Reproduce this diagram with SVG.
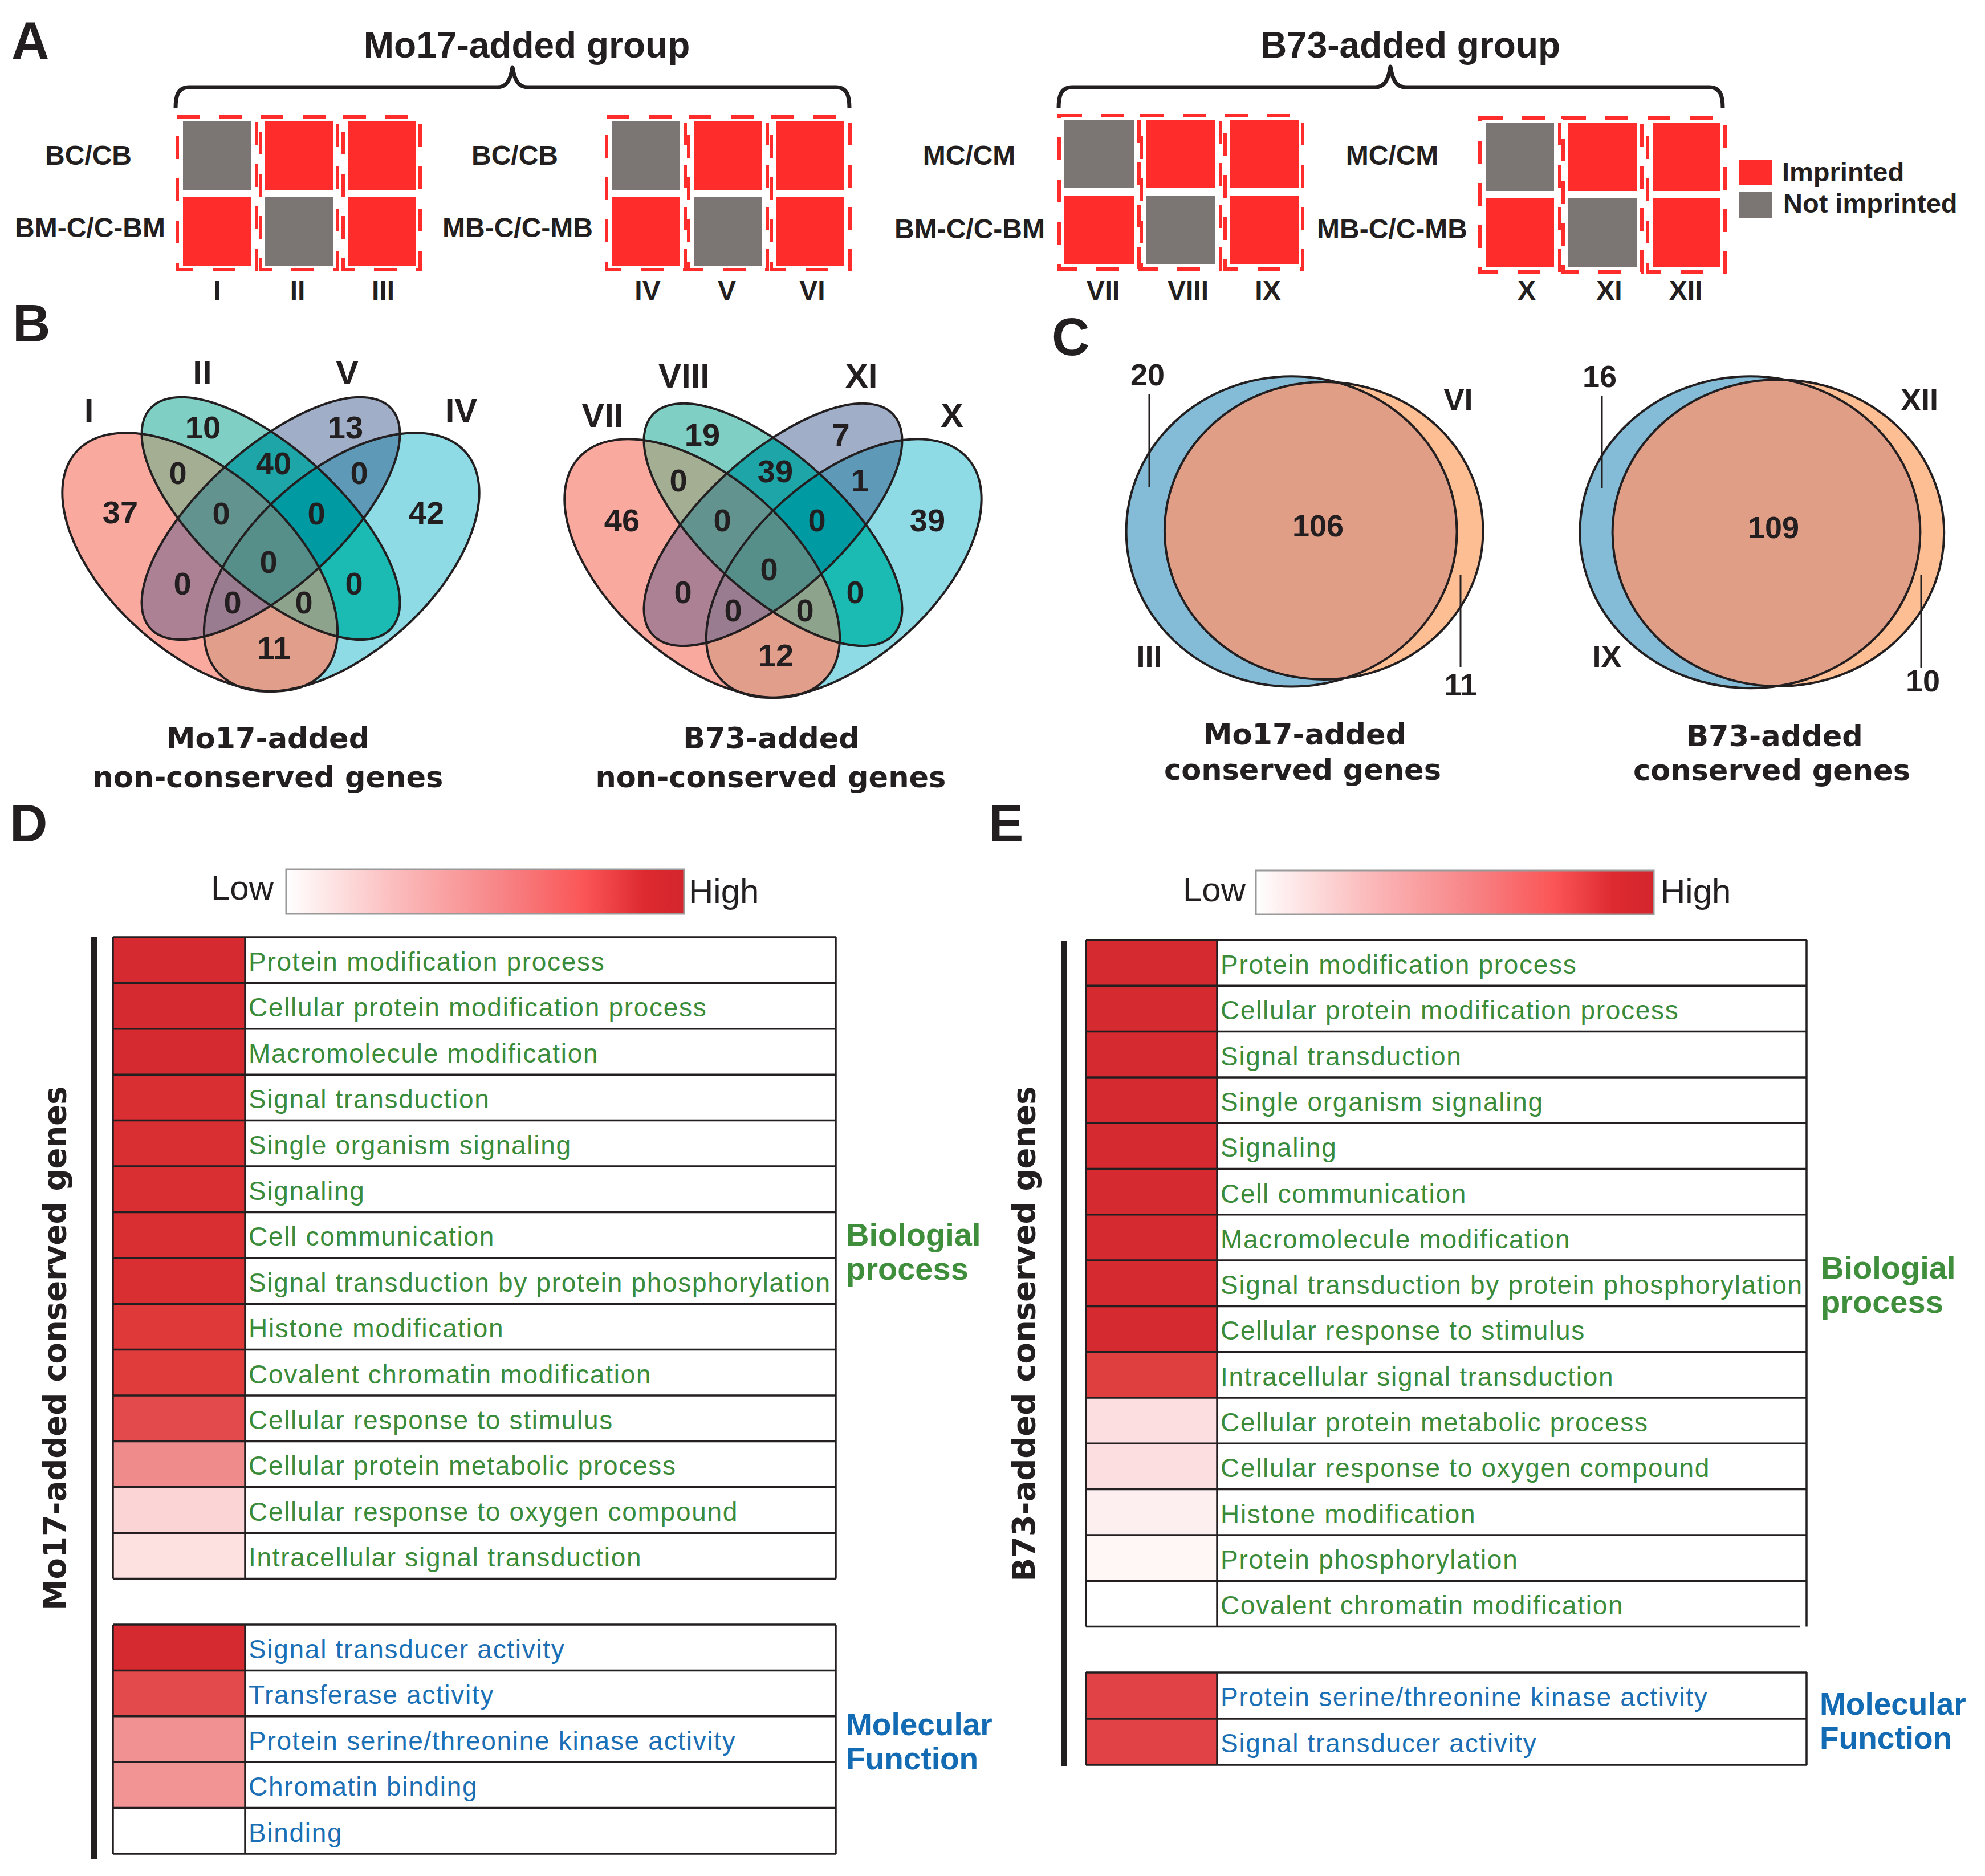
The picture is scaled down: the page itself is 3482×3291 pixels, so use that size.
<svg xmlns="http://www.w3.org/2000/svg" xmlns:xlink="http://www.w3.org/1999/xlink" width="3482" height="3291" viewBox="0 0 3482 3291">
<style>
.t{fill:#231F20;font-family:"Liberation Sans",Arial,sans-serif;font-weight:bold}
.dj{fill:#231F20;font-family:"DejaVu Sans",Verdana,sans-serif;font-weight:bold}
.big{font-size:92px}
.lab{font-size:48px}
.ttl{font-size:64px}
.leg{font-size:47px}
.num{font-size:56px;text-anchor:middle}
.rom{font-size:60px;text-anchor:middle}
.cn{font-size:54px;text-anchor:middle}
.sub{font-size:51px;text-anchor:middle}
.ylab{font-size:54.5px;text-anchor:middle}
.mid{text-anchor:middle}
.red{fill:#FF2C2C}
.gray{fill:#7B7674}
.dash{fill:none;stroke:#FF2C2C;stroke-width:6;stroke-dasharray:40 34}
.brace{fill:none;stroke:#231F20;stroke-width:7;stroke-linejoin:round}
.vo{fill:none;stroke:#231F20;stroke-width:4}
.ln{fill:none;stroke:#231F20;stroke-width:3.5}
.rowg{fill:#3A8B3A;font-family:"Liberation Sans",Arial,sans-serif;font-size:46px;letter-spacing:1.7px}
.rowb{fill:#1B6FB5;font-family:"Liberation Sans",Arial,sans-serif;font-size:46px;letter-spacing:1.7px}
.hg{fill:#3E8E3B;font-family:"Liberation Sans",Arial,sans-serif;font-weight:bold;font-size:56px}
.hb{fill:#136BB4;font-family:"Liberation Sans",Arial,sans-serif;font-weight:bold;font-size:55px}
.lh{fill:#231F20;font-family:"Liberation Sans",Arial,sans-serif;font-size:60px}
</style>
<defs>
<ellipse id="eA" cx="350.7" cy="986.1" rx="290.6" ry="159" transform="rotate(41.7 350.7 986.1)"/>
<ellipse id="eB" cx="475" cy="909.4" rx="286.1" ry="121" transform="rotate(42.4 475 909.4)"/>
<ellipse id="eC" cx="475" cy="909.4" rx="286.1" ry="121" transform="rotate(-42.4 475 909.4)"/>
<ellipse id="eD" cx="599.3" cy="986.1" rx="290.6" ry="159" transform="rotate(-41.7 599.3 986.1)"/>
<clipPath id="cA"><use href="#eA"/></clipPath>
<clipPath id="cB"><use href="#eB"/></clipPath>
<clipPath id="cC"><use href="#eC"/></clipPath>
<g id="vennFill">
<use href="#eA" fill="#FAA99F"/>
<use href="#eB" fill="#7FCFC4"/>
<use href="#eC" fill="#A0AEC8"/>
<use href="#eD" fill="#8EDBE6"/>
<use href="#eB" clip-path="url(#cA)" fill="#A3AE93"/>
<use href="#eC" clip-path="url(#cA)" fill="#AC8193"/>
<use href="#eD" clip-path="url(#cA)" fill="#E09E8B"/>
<use href="#eC" clip-path="url(#cB)" fill="#1EA5A8"/>
<use href="#eD" clip-path="url(#cB)" fill="#1BBBB4"/>
<use href="#eD" clip-path="url(#cC)" fill="#5E9AB8"/>
<g clip-path="url(#cA)"><use href="#eC" clip-path="url(#cB)" fill="#62938F"/></g>
<g clip-path="url(#cA)"><use href="#eD" clip-path="url(#cB)" fill="#8EA38C"/></g>
<g clip-path="url(#cA)"><use href="#eD" clip-path="url(#cC)" fill="#9A7C90"/></g>
<g clip-path="url(#cB)"><use href="#eD" clip-path="url(#cC)" fill="#009AA2"/></g>
<g clip-path="url(#cA)"><g clip-path="url(#cB)"><use href="#eD" clip-path="url(#cC)" fill="#568E89"/></g></g>
<use href="#eA" class="vo"/>
<use href="#eB" class="vo"/>
<use href="#eC" class="vo"/>
<use href="#eD" class="vo"/>
</g>
<ellipse id="c3" cx="2265.6" cy="932.4" rx="290" ry="272.2"/>
<ellipse id="c6" cx="2322.2" cy="931" rx="279.3" ry="261"/>
<ellipse id="c9" cx="3069.9" cy="933.7" rx="298.5" ry="273.5"/>
<ellipse id="c12" cx="3119.4" cy="935" rx="290.8" ry="269"/>
<clipPath id="cc3"><use href="#c3"/></clipPath>
<clipPath id="cc9"><use href="#c9"/></clipPath>
<linearGradient id="grad" x1="0" y1="0" x2="1" y2="0">
<stop offset="0" stop-color="#FFFFFF"/>
<stop offset="0.3" stop-color="#FBB6B7"/>
<stop offset="0.55" stop-color="#F78284"/>
<stop offset="0.75" stop-color="#FB5556"/>
<stop offset="0.9" stop-color="#DD2A30"/>
<stop offset="1" stop-color="#D4252D"/>
</linearGradient>
</defs>
<rect width="3482" height="3291" fill="#FFFFFF"/>

<g id="panelLetters">
<text class="t big" x="20" y="103">A</text>
<text class="t big" x="22" y="599">B</text>
<text class="t big" x="1845" y="623">C</text>
<text class="t big" x="17" y="1476">D</text>
<text class="t big" x="1734" y="1476">E</text>
</g>

<g id="titleMo17"><text class="t ttl mid" x="924" y="101">Mo17-added group</text></g>
<g id="titleB73"><text class="t ttl mid" x="2474" y="101">B73-added group</text></g>
<g id="braces">
<path class="brace" d="M308,190 C308,168 312,153 332,153 L872,153 C888,153 895,142 899,118 C903,142 910,153 926,153 L1466,153 C1486,153 1490,168 1490,190"/>
<path class="brace" d="M1857,190 C1857,168 1861,153 1881,153 L2412,153 C2428,153 2435,142 2439,117 C2443,142 2450,153 2466,153 L2998,153 C3018,153 3022,168 3022,190"/>
</g>

<g id="groupI-III">
<text class="t lab mid" x="155" y="289">BC/CB</text>
<text class="t lab mid" x="158" y="416">BM-C/C-BM</text>
<rect class="gray" x="321" y="213" width="120" height="120"/>
<rect class="red" x="464" y="213" width="121" height="120"/>
<rect class="red" x="610" y="213" width="119" height="120"/>
<rect class="red" x="321" y="346" width="120" height="120"/>
<rect class="gray" x="464" y="346" width="121" height="120"/>
<rect class="red" x="610" y="346" width="119" height="120"/>
<rect class="dash" x="311" y="205" width="139" height="268"/>
<rect class="dash" x="457" y="205" width="135" height="268"/>
<rect class="dash" x="602" y="205" width="135" height="268"/>
<text class="t lab mid" x="381" y="526">I</text>
<text class="t lab mid" x="522" y="526">II</text>
<text class="t lab mid" x="672" y="526">III</text>
</g>

<g id="groupIV-VI">
<text class="t lab mid" x="903" y="289">BC/CB</text>
<text class="t lab mid" x="908" y="416">MB-C/C-MB</text>
<rect class="gray" x="1073" y="213" width="119" height="120"/>
<rect class="red" x="1217" y="213" width="120" height="120"/>
<rect class="red" x="1362" y="213" width="119" height="120"/>
<rect class="red" x="1073" y="346" width="119" height="120"/>
<rect class="gray" x="1217" y="346" width="120" height="120"/>
<rect class="red" x="1362" y="346" width="119" height="120"/>
<rect class="dash" x="1064" y="205" width="138" height="268"/>
<rect class="dash" x="1208" y="205" width="138" height="268"/>
<rect class="dash" x="1353" y="205" width="138" height="268"/>
<text class="t lab mid" x="1136" y="526">IV</text>
<text class="t lab mid" x="1275" y="526">V</text>
<text class="t lab mid" x="1425" y="526">VI</text>
</g>

<g id="groupVII-IX">
<text class="t lab mid" x="1700" y="289">MC/CM</text>
<text class="t lab mid" x="1701" y="418">BM-C/C-BM</text>
<rect class="gray" x="1867" y="211" width="122" height="119"/>
<rect class="red" x="2011" y="211" width="121" height="119"/>
<rect class="red" x="2158" y="211" width="120" height="119"/>
<rect class="red" x="1867" y="344" width="122" height="119"/>
<rect class="gray" x="2011" y="344" width="121" height="119"/>
<rect class="red" x="2158" y="344" width="120" height="119"/>
<rect class="dash" x="1858" y="203" width="140" height="269"/>
<rect class="dash" x="2002" y="203" width="139" height="269"/>
<rect class="dash" x="2149" y="203" width="136" height="269"/>
<text class="t lab mid" x="1935" y="526">VII</text>
<text class="t lab mid" x="2084" y="526">VIII</text>
<text class="t lab mid" x="2224" y="526">IX</text>
</g>

<g id="groupX-XII">
<text class="t lab mid" x="2442" y="289">MC/CM</text>
<text class="t lab mid" x="2442" y="418">MB-C/C-MB</text>
<rect class="gray" x="2606" y="216" width="120" height="119"/>
<rect class="red" x="2751" y="216" width="120" height="119"/>
<rect class="red" x="2899" y="216" width="119" height="119"/>
<rect class="red" x="2606" y="348" width="120" height="120"/>
<rect class="gray" x="2751" y="348" width="120" height="120"/>
<rect class="red" x="2899" y="348" width="119" height="120"/>
<rect class="dash" x="2596" y="207" width="140" height="270"/>
<rect class="dash" x="2742" y="207" width="138" height="270"/>
<rect class="dash" x="2890" y="207" width="136" height="270"/>
<text class="t lab mid" x="2678" y="526">X</text>
<text class="t lab mid" x="2823" y="526">XI</text>
<text class="t lab mid" x="2957" y="526">XII</text>
</g>

<g id="legend">
<rect class="red" x="3051" y="280" width="58" height="45"/>
<rect class="gray" x="3051" y="336" width="58" height="46"/>
<text class="t leg" x="3126" y="318">Imprinted</text>
<text class="t leg" x="3128" y="373">Not imprinted</text>
</g>

<g id="vennMo17">
<use href="#vennFill"/>
<text class="t rom" x="156" y="741">I</text>
<text class="t rom" x="355" y="674">II</text>
<text class="t rom" x="609" y="674">V</text>
<text class="t rom" x="809" y="741">IV</text>
<text class="t num" x="211" y="918">37</text>
<text class="t num" x="356" y="769">10</text>
<text class="t num" x="606" y="769">13</text>
<text class="t num" x="748" y="919">42</text>
<text class="t num" x="312" y="849">0</text>
<text class="t num" x="480" y="832">40</text>
<text class="t num" x="630" y="849">0</text>
<text class="t num" x="388" y="920">0</text>
<text class="t num" x="555" y="920">0</text>
<text class="t num" x="471" y="1005">0</text>
<text class="t num" x="320" y="1043">0</text>
<text class="t num" x="408" y="1076">0</text>
<text class="t num" x="533" y="1076">0</text>
<text class="t num" x="621" y="1043">0</text>
<text class="t num" x="480" y="1156">11</text>
<text class="dj sub" x="470" y="1313">Mo17-added</text>
<text class="dj sub" x="470" y="1381">non-conserved genes</text>
</g>

<g id="vennB73">
<use href="#vennFill" transform="translate(881,11)"/>
<text class="t rom" x="1057" y="749">VII</text>
<text class="t rom" x="1200" y="680">VIII</text>
<text class="t rom" x="1511" y="680">XI</text>
<text class="t rom" x="1670" y="749">X</text>
<text class="t num" x="1091" y="932">46</text>
<text class="t num" x="1232" y="782">19</text>
<text class="t num" x="1475" y="782">7</text>
<text class="t num" x="1627" y="932">39</text>
<text class="t num" x="1190" y="862">0</text>
<text class="t num" x="1360" y="846">39</text>
<text class="t num" x="1508" y="862">1</text>
<text class="t num" x="1267" y="932">0</text>
<text class="t num" x="1433" y="932">0</text>
<text class="t num" x="1349" y="1018">0</text>
<text class="t num" x="1198" y="1058">0</text>
<text class="t num" x="1286" y="1090">0</text>
<text class="t num" x="1412" y="1090">0</text>
<text class="t num" x="1500" y="1058">0</text>
<text class="t num" x="1361" y="1169">12</text>
<text class="dj sub" x="1353" y="1313">B73-added</text>
<text class="dj sub" x="1352" y="1381">non-conserved genes</text>
</g>

<g id="vennConsMo17">
<use href="#c3" fill="#84BCD7"/>
<use href="#c6" fill="#FDBE94"/>
<use href="#c6" clip-path="url(#cc3)" fill="#E09E86"/>
<use href="#c3" class="vo"/>
<use href="#c6" class="vo"/>
<text class="t cn" x="2013" y="676">20</text>
<text class="t cn" x="2558" y="720">VI</text>
<text class="t cn" x="2312" y="941">106</text>
<text class="t cn" x="2016" y="1170">III</text>
<text class="t cn" x="2562" y="1220">11</text>
<text class="dj sub" x="2289" y="1306">Mo17-added</text>
<text class="dj sub" x="2285" y="1368">conserved genes</text>
</g>
<g id="vennConsB73">
<use href="#c9" fill="#84BCD7"/>
<use href="#c12" fill="#FDBE94"/>
<use href="#c12" clip-path="url(#cc9)" fill="#E09E86"/>
<use href="#c9" class="vo"/>
<use href="#c12" class="vo"/>
<text class="t cn" x="2806" y="679">16</text>
<text class="t cn" x="3367" y="720">XII</text>
<text class="t cn" x="3111" y="944">109</text>
<text class="t cn" x="2819" y="1170">IX</text>
<text class="t cn" x="3373" y="1213">10</text>
<text class="dj sub" x="3113" y="1309">B73-added</text>
<text class="dj sub" x="3108" y="1369">conserved genes</text>
</g>
<g id="connectors">
<path class="ln" style="stroke-width:3" d="M2016,692V854 M2562,1008V1170 M2810,694V856 M3370,1008V1171"/>
</g>

<g id="colorbarD">
<text class="lh" x="370" y="1578">Low</text>
<rect x="502" y="1525" width="698" height="78" fill="url(#grad)" stroke="#9A9A9A" stroke-width="3"/>
<text class="lh" x="1208" y="1584">High</text>
</g>
<g id="ylabelD"><text class="dj ylab" transform="translate(115,2365) rotate(-90)">Mo17-added conserved genes</text></g>
<rect id="barD" x="160" y="1643" width="11" height="1618" fill="#231F20"/>
<g id="tableD-BP">
<rect x="198" y="1644" width="232" height="80.4" fill="#D42A30"/>
<rect x="198" y="1724.4" width="232" height="80.4" fill="#D42A30"/>
<rect x="198" y="1804.8" width="232" height="80.4" fill="#D42A30"/>
<rect x="198" y="1885.2" width="232" height="80.4" fill="#DA2F32"/>
<rect x="198" y="1965.6" width="232" height="80.4" fill="#DA2F32"/>
<rect x="198" y="2046" width="232" height="80.4" fill="#DA2F32"/>
<rect x="198" y="2126.4" width="232" height="80.4" fill="#DA2F32"/>
<rect x="198" y="2206.8" width="232" height="80.4" fill="#DA2F32"/>
<rect x="198" y="2287.2" width="232" height="80.4" fill="#DF393A"/>
<rect x="198" y="2367.6" width="232" height="80.4" fill="#E03C3C"/>
<rect x="198" y="2448" width="232" height="80.4" fill="#E34A4B"/>
<rect x="198" y="2528.4" width="232" height="80.4" fill="#F08B8B"/>
<rect x="198" y="2608.8" width="232" height="80.4" fill="#FBD5D6"/>
<rect x="198" y="2689.2" width="232" height="80.4" fill="#FDE1E1"/>
<path class="ln" d="M198,1644H1466 M198,1724.4H1466 M198,1804.8H1466 M198,1885.2H1466 M198,1965.6H1466 M198,2046H1466 M198,2126.4H1466 M198,2206.8H1466 M198,2287.2H1466 M198,2367.6H1466 M198,2448H1466 M198,2528.4H1466 M198,2608.8H1466 M198,2689.2H1466 M198,2769.6H1466 M198,1644V2769.6 M430,1644V2769.6 M1466,1644V2769.6"/>
<text class="rowg" x="436" y="1703">Protein modification process</text>
<text class="rowg" x="436" y="1783.4">Cellular protein modification process</text>
<text class="rowg" x="436" y="1863.8">Macromolecule modification</text>
<text class="rowg" x="436" y="1944.2">Signal transduction</text>
<text class="rowg" x="436" y="2024.6">Single organism signaling</text>
<text class="rowg" x="436" y="2105">Signaling</text>
<text class="rowg" x="436" y="2185.4">Cell communication</text>
<text class="rowg" x="436" y="2265.8">Signal transduction by protein phosphorylation</text>
<text class="rowg" x="436" y="2346.2">Histone modification</text>
<text class="rowg" x="436" y="2426.6">Covalent chromatin modification</text>
<text class="rowg" x="436" y="2507">Cellular response to stimulus</text>
<text class="rowg" x="436" y="2587.4">Cellular protein metabolic process</text>
<text class="rowg" x="436" y="2667.8">Cellular response to oxygen compound</text>
<text class="rowg" x="436" y="2748.2">Intracellular signal transduction</text>
<text class="hg" x="1484" y="2185">Biologial</text>
<text class="hg" x="1484" y="2245">process</text>
</g>
<g id="tableD-MF">
<rect x="198" y="2850" width="232" height="80.4" fill="#D42A30"/>
<rect x="198" y="2930.4" width="232" height="80.4" fill="#E34A4B"/>
<rect x="198" y="3010.8" width="232" height="80.4" fill="#F29191"/>
<rect x="198" y="3091.2" width="232" height="80.4" fill="#F29494"/>
<path class="ln" d="M198,2850H1466 M198,2930.4H1466 M198,3010.8H1466 M198,3091.2H1466 M198,3171.6H1466 M198,3252H1466 M198,2850V3252 M430,2850V3252 M1466,2850V3252"/>
<text class="rowb" x="436" y="2909">Signal transducer activity</text>
<text class="rowb" x="436" y="2989.4">Transferase activity</text>
<text class="rowb" x="436" y="3069.8">Protein serine/threonine kinase activity</text>
<text class="rowb" x="436" y="3150.2">Chromatin binding</text>
<text class="rowb" x="436" y="3230.6">Binding</text>
<text class="hb" x="1484" y="3044">Molecular</text>
<text class="hb" x="1484" y="3104">Function</text>
</g>

<g id="colorbarE">
<text class="lh" x="2075" y="1581">Low</text>
<rect x="2203" y="1527" width="698" height="77" fill="url(#grad)" stroke="#9A9A9A" stroke-width="3"/>
<text class="lh" x="2913" y="1584">High</text>
</g>
<g id="ylabelE"><text class="dj ylab" transform="translate(1815,2340) rotate(-90)">B73-added conserved genes</text></g>
<rect id="barE" x="1861" y="1651" width="11" height="1447" fill="#231F20"/>
<g id="tableE-BP">
<rect x="1905" y="1649" width="230" height="722.7" fill="#D42A30"/>
<rect x="1905" y="2371.7" width="230" height="80.3" fill="#E03F3F"/>
<rect x="1905" y="2452" width="230" height="80.3" fill="#FCDDE0"/>
<rect x="1905" y="2532.3" width="230" height="80.3" fill="#FCDDE0"/>
<rect x="1905" y="2612.6" width="230" height="80.3" fill="#FDEFEF"/>
<rect x="1905" y="2692.9" width="230" height="80.3" fill="#FFF7F5"/>
<path class="ln" d="M1905,1649H3169 M1905,1729.3H3169 M1905,1809.6H3169 M1905,1889.9H3169 M1905,1970.2H3169 M1905,2050.5H3169 M1905,2130.8H3169 M1905,2211.1H3169 M1905,2291.4H3169 M1905,2371.7H3169 M1905,2452H3169 M1905,2532.3H3169 M1905,2612.6H3169 M1905,2692.9H3169 M1905,2773.2H3169 M1905,2853.5H3157 M1905,1649V2853.5 M2135,1649V2853.5 M3169,1649V2853.5"/>
<text class="rowg" x="2141" y="1708">Protein modification process</text>
<text class="rowg" x="2141" y="1788.3">Cellular protein modification process</text>
<text class="rowg" x="2141" y="1868.6">Signal transduction</text>
<text class="rowg" x="2141" y="1948.9">Single organism signaling</text>
<text class="rowg" x="2141" y="2029.2">Signaling</text>
<text class="rowg" x="2141" y="2109.5">Cell communication</text>
<text class="rowg" x="2141" y="2189.8">Macromolecule modification</text>
<text class="rowg" x="2141" y="2270.1">Signal transduction by protein phosphorylation</text>
<text class="rowg" x="2141" y="2350.4">Cellular response to stimulus</text>
<text class="rowg" x="2141" y="2430.7">Intracellular signal transduction</text>
<text class="rowg" x="2141" y="2511">Cellular protein metabolic process</text>
<text class="rowg" x="2141" y="2591.3">Cellular response to oxygen compound</text>
<text class="rowg" x="2141" y="2671.6">Histone modification</text>
<text class="rowg" x="2141" y="2751.9">Protein phosphorylation</text>
<text class="rowg" x="2141" y="2832.2">Covalent chromatin modification</text>
<text class="hg" x="3194" y="2243">Biologial</text>
<text class="hg" x="3194" y="2303">process</text>
</g>
<g id="tableE-MF">
<rect x="1905" y="2934" width="230" height="162" fill="#E14245"/>
<path class="ln" d="M1905,2934H3169 M1905,3015H3169 M1905,3096H3169 M1905,2934V3096 M2135,2934V3096 M3169,2934V3096"/>
<text class="rowb" x="2141" y="2993">Protein serine/threonine kinase activity</text>
<text class="rowb" x="2141" y="3074">Signal transducer activity</text>
<text class="hb" x="3192" y="3008">Molecular</text>
<text class="hb" x="3192" y="3068">Function</text>
</g>
</svg>
